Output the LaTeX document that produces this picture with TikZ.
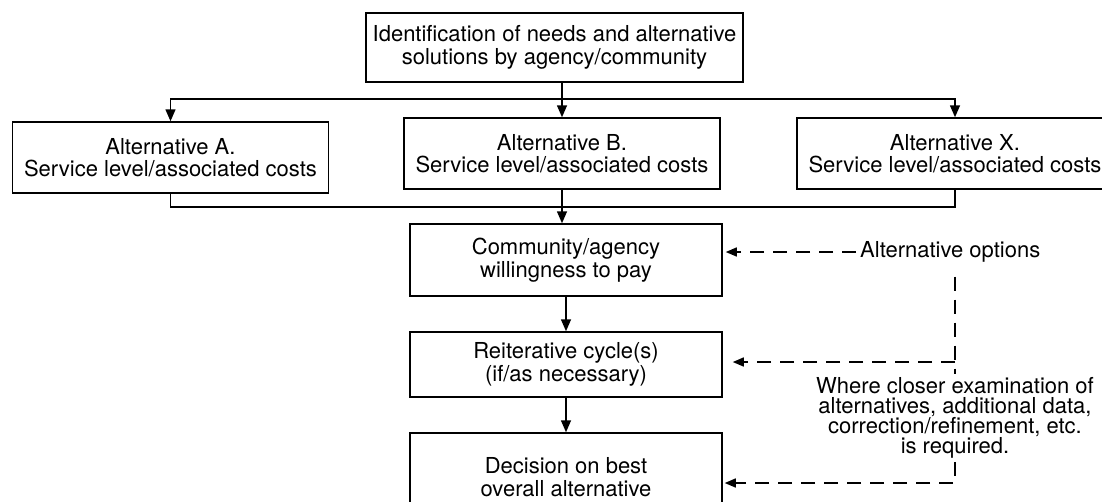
\documentclass[tikz,border=0pt]{standalone}
\usepackage{fontspec}
\setmainfont{TeX Gyre Heros}
\usetikzlibrary{arrows.meta}

\begin{document}
\begin{tikzpicture}[x=1pt,y=-1pt,
    font=\fontsize{22}{22.5}\selectfont,
    box/.style={draw,line width=1.5pt,align=center,inner sep=0pt},
    arr/.style={line width=1.5pt,-{Triangle[length=12pt,width=10pt]}},
    dashline/.style={line width=1.4pt,dash pattern=on 14pt off 9pt},
    dasharr/.style={dashline,-{Triangle[length=11pt,width=9pt]}}]
  \useasboundingbox (0,0) rectangle (1102,501);
  \node[box,minimum width=377pt,minimum height=69pt] (ident) at (554.5,47.5)
    {Identification of needs and alternative\\solutions by agency/community};
  \foreach \n/\x/\y in {A/170.5/157.5,B/562/153.5,X/955/153.5}{
    \node[box,minimum width=316pt,minimum height=71pt] (alt\n) at (\x,\y)
      {Alternative \n.\\Service level/associated costs};
  }
  \node[box,minimum width=312pt,minimum height=72pt] (pay) at (566,260)
    {Community/agency\\willingness to pay};
  \node[box,minimum width=312pt,minimum height=65pt] (cycle) at (566,364.5)
    {Reiterative cycle(s)\\(if/as necessary)};
  \node[box,minimum width=312pt,minimum height=88pt] (decision) at (566,477)
    {Decision on best\\overall alternative};
  \node[anchor=west,inner sep=4pt] (opts) at (856,252) {Alternative options};
  \node[align=center,font=\fontsize{22}{20}\selectfont] (note) at (955,418)
    {Where closer examination of\\alternatives, additional data,\\correction/refinement, etc.\\is required.};

  % split to the alternatives and merge back
  \coordinate (split) at (562,99);
  \coordinate (merge) at (562,207);
  \draw[line width=1.5pt] (ident.south -| split) -- (split);
  \draw[arr] (split) -| (altA.north);
  \draw[arr] (split) -| (altX.north);
  \draw[arr] (split) -- (altB.north);
  \draw[line width=1.5pt] (altA.south) |- (merge) -| (altX.south);
  \draw[arr] (altB.south) -- (pay.north -| altB.south);
  \draw[arr] (pay.south) -- (cycle.north);
  \draw[arr] (cycle.south) -- (decision.north);

  % feedback loops
  \coordinate (bend) at (955,362);
  \coordinate (corner) at (955,483);
  \draw[dasharr,shorten >=3pt] (opts.west) -- (pay.east |- opts.west);
  \draw[dashline,shorten <=10pt] (opts.south -| bend) -- (bend) -- (note.north -| bend);
  \draw[dasharr,shorten >=10pt] (bend) -- (bend -| cycle.east);
  \draw[dasharr,shorten >=2pt] (note.south -| corner) -- (corner) -- (corner -| decision.east);
\end{tikzpicture}
\end{document}
